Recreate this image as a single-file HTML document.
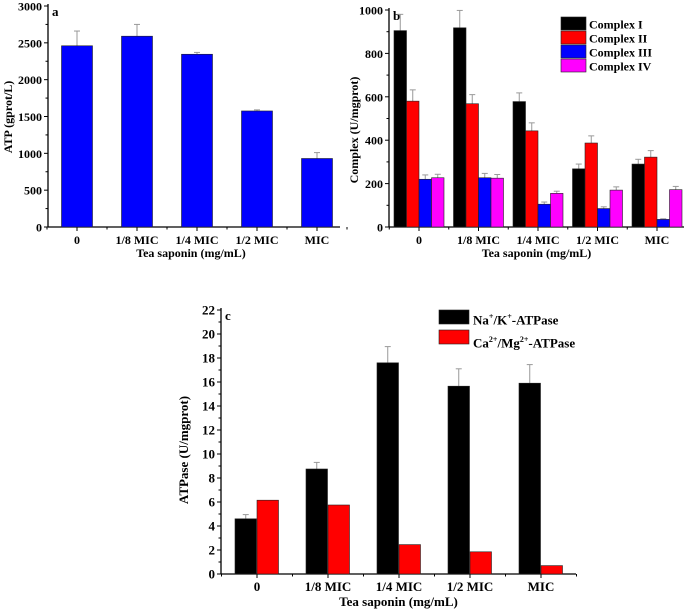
<!DOCTYPE html>
<html><head><meta charset="utf-8"><style>
body{margin:0;background:#fff}
svg{display:block;font-family:"Liberation Serif",serif;font-weight:bold}
</style></head><body>
<svg id="s" width="685" height="614" viewBox="0 0 685 614" xmlns="http://www.w3.org/2000/svg"></svg>
<script>
// Panel a data
const catsA=["0","1/8 MIC","1/4 MIC","1/2 MIC","MIC"];
const atpVals=[2460,2590,2345,1575,930];
const atpErr=[200,160,25,15,80];
const ticksA=[0,500,1000,1500,2000,2500,3000];
// Panel b data
const catsB=["0","1/8 MIC","1/4 MIC","1/2 MIC","MIC"];
const seriesB=["Complex I","Complex II","Complex III","Complex IV"];
const complexI=[905,918,578,268,290];
const complexII=[580,568,443,387,322];
const complexIII=[220,227,105,85,35];
const complexIV=[227,225,155,170,172];
const errI=[75,80,40,22,22];
const errII=[52,42,37,33,30];
const errIII=[20,20,10,8,3];
const errIV=[16,17,10,15,15];
const ticksB=[0,200,400,600,800,1000];
// Panel c data
const catsC=["0","1/8 MIC","1/4 MIC","1/2 MIC","MIC"];
const seriesC=["Na+/K+-ATPase","Ca2+/Mg2+-ATPase"];
const naK=[4.6,8.75,17.6,15.65,15.9];
const naKErr=[0.35,0.55,1.35,1.45,1.55];
const caMg=[6.15,5.75,2.45,1.85,0.7];
const ticksC=[0,2,4,6,8,10,12,14,16,18,20,22];

const S=document.getElementById('s');
const NS="http://www.w3.org/2000/svg";
function el(t,a,txt){const e=document.createElementNS(NS,t);for(const k in a)e.setAttribute(k,a[k]);if(txt!=null)e.textContent=txt;S.appendChild(e);return e;}

function panel(o){
  const {x0,x1,y0,y1,max,ticks,cats,c0,step,tag,letter,ytitle,ytx,yty,xtY,fs}=o;
  const ys=v=>y0-(v/max)*(y0-y1);
  const xs=i=>c0+i*step;
  let e;
  e=el('line',{x1:x0,y1:y0,x2:x0,y2:y1-2,stroke:'#000','stroke-width':1.3});
  
  e=el('line',{x1:x0,y1:y0,x2:x1,y2:y0,stroke:'#000','stroke-width':1.3});
  
  ticks.forEach((t,i)=>{
    const y=ys(t);
    el('line',{x1:x0-4,y1:y,x2:x0,y2:y,stroke:'#000'});
    e=el('text',{x:x0-6,y:y+4.5,'text-anchor':'end','font-size':fs},String(t));
    
    if(i<ticks.length-1){const ym=ys((t+ticks[i+1])/2);el('line',{x1:x0-2.5,y1:ym,x2:x0,y2:ym,stroke:'#000'});}
  });
  cats.forEach((c,i)=>{
    const x=xs(i);
    el('line',{x1:x,y1:y0,x2:x,y2:y0+4,stroke:'#000'});
    el('line',{x1:x+step/2,y1:y0,x2:x+step/2,y2:y0+2.5,stroke:'#000'});
    e=el('text',{x:x,y:y0+17,'text-anchor':'middle','font-size':fs},c);
    
  });
  el('line',{x1:c0-step/2,y1:y0,x2:c0-step/2,y2:y0+2.5,stroke:'#000'});
  e=el('text',{x:(x0+x1)/2+(o.xtdx||0),y:xtY,'text-anchor':'middle','font-size':fs},'Tea saponin (mg/mL)');
  
  e=el('text',{x:ytx,y:yty,'text-anchor':'middle','font-size':fs,transform:`rotate(-90 ${ytx} ${yty})`,'xml:space':'preserve'},ytitle);
  
  e=el('text',{x:x0+4,y:y1+10,'font-size':13},letter);
  
  return {ys,xs};
}
function bar(ax,tag,i,off,w,v,err,fill,name){
  const x=ax.xs(i)+off, y=ax.ys(v), yb=ax.ys(0);
  if(err){const ye=ax.ys(v+err);const cx=x+w/2;
    el('line',{x1:cx,y1:y,x2:cx,y2:ye,stroke:'#999'});el('line',{x1:cx-3,y1:ye,x2:cx+3,y2:ye,stroke:'#999'});}
  const r=el('rect',{x:x,y:y,width:w,height:yb-y,fill:fill,stroke:'#222','stroke-width':0.6});
  
  
}

// Panel a
const A=panel({x0:48,x1:340,y0:227,y1:6,max:3000,ticks:ticksA,cats:catsA,c0:77,step:60,tag:'atp',letter:'a',ytitle:'ATP (gprot/L)',ytx:12,yty:117,xtY:257,xtdx:-3,fs:12});
atpVals.forEach((v,i)=>bar(A,'atp',i,-15.5,31,v,atpErr[i],'#0000ff','atp-bar'));

// Panel b
const B=panel({x0:389,x1:684,y0:227,y1:10,max:1000,ticks:ticksB,cats:catsB,c0:419,step:59.5,tag:'complex',letter:'b',ytitle:'Complex  (U/mgprot)',ytx:358,yty:130,xtY:257,xtdx:0,fs:12});
const colsB=['#000000','#ff0000','#0000ff','#ff00ff'];
const valsB=[complexI,complexII,complexIII,complexIV];
const errsB=[errI,errII,errIII,errIV];
valsB.forEach((arr,s)=>arr.forEach((v,i)=>bar(B,'complex',i,-25+s*12.5,12.5,v,errsB[s][i],colsB[s],'complex-bar')));
seriesB.forEach((n,s)=>{
  let e=el('rect',{x:561,y:17+s*14,width:25,height:13,fill:colsB[s],stroke:'#222','stroke-width':0.6});
  
  e=el('text',{x:589,y:28.5+s*14,'font-size':12},n);
  
});

// Panel c
const C=panel({x0:221,x1:576,y0:574,y1:310,max:22,ticks:ticksC,cats:catsC,c0:257,step:71,tag:'atpase',letter:'c',ytitle:'ATPase  (U/mgprot)',ytx:188,yty:450,xtY:606,xtdx:0,fs:13});
naK.forEach((v,i)=>bar(C,'atpase',i,-22,21.5,v,naKErr[i],'#000000','na-k-bar'));
caMg.forEach((v,i)=>bar(C,'atpase',i,0,21.5,v,0,'#ff0000','ca-mg-bar'));
let e=el('rect',{x:439,y:310,width:30,height:14,fill:'#000',stroke:'#222','stroke-width':0.6});

e=el('rect',{x:439,y:330,width:30,height:14,fill:'#ff0000',stroke:'#222','stroke-width':0.6});

</script>
<div style="position:absolute;left:473px;top:307px;font:bold 13px 'Liberation Serif',serif;line-height:20px">
<div>Na<sup style="font-size:8px">+</sup>/K<sup style="font-size:8px">+</sup>-ATPase</div>
<div>Ca<sup style="font-size:8px">2+</sup>/Mg<sup style="font-size:8px">2+</sup>-ATPase</div>
</div>
</body></html>
